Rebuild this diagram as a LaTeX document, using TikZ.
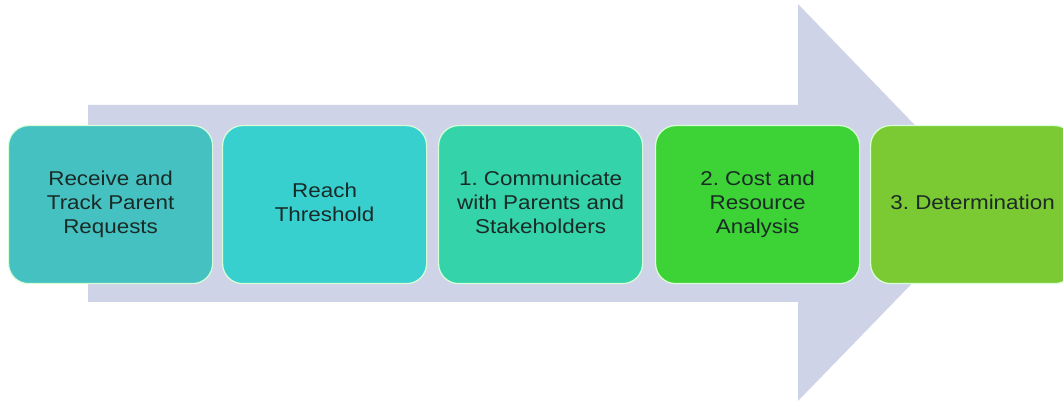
\documentclass[tikz,border=0pt]{standalone}
\usepackage{fontspec}
\setmainfont{Liberation Sans}
\definecolor{arrowc}{HTML}{CED3E7}
\definecolor{cA}{HTML}{46C1C1}
\definecolor{cB}{HTML}{37D0CF}
\definecolor{cC}{HTML}{34D3A9}
\definecolor{cD}{HTML}{3DD336}
\definecolor{cE}{HTML}{7CCA33}
\definecolor{txt}{HTML}{1A2A26}
\newcommand{\stxt}[1]{\scalebox{1.12}[1]{\begin{tabular}{@{}c@{}}#1\end{tabular}}}
\begin{document}
\begin{tikzpicture}[x=1pt,y=-1pt,
  stepbox/.style={draw=white!85!green, line width=1.2pt, rounded corners=20pt,
    minimum width=204pt, minimum height=158pt, align=center,
    font=\fontsize{20}{24}\selectfont, text=txt, inner sep=0pt, anchor=north west}]
\useasboundingbox (0,0) rectangle (1063,403);
\begin{scope}
\clip (0,0) rectangle (1063,403);
\fill[arrowc] (88,105) -- (798,105) -- (798,4) -- (990,203) -- (798,401) -- (798,302) -- (88,302) -- cycle;
\node[stepbox, fill=cA] (s1) at (8,125) {\stxt{Receive and\\Track Parent\\Requests}};
\node[stepbox, fill=cB] (s2) at (222,125) {\raisebox{3pt}{\stxt{Reach\\Threshold}}};
\node[stepbox, fill=cC] (s3) at (438,125) {\stxt{1.\ Communicate\\with Parents and\\Stakeholders}};
\node[stepbox, fill=cD] (s4) at (655,125) {\stxt{2.\ Cost and\\Resource\\Analysis}};
\node[stepbox, fill=cE] (s5) at (870,125) {\stxt{3.\ Determination}};
\end{scope}
\end{tikzpicture}
\end{document}
